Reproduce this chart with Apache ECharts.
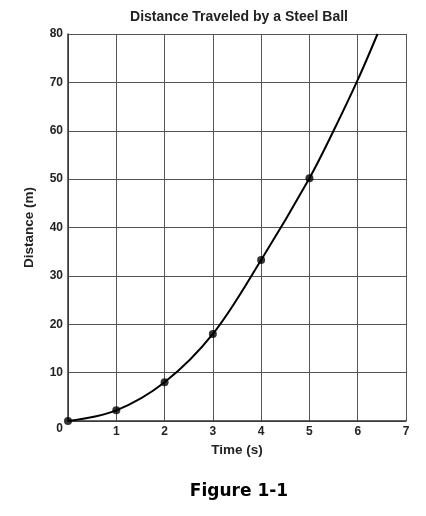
<!DOCTYPE html>
<html>
<head>
<meta charset="utf-8">
<script src="https://cdn.jsdelivr.net/npm/echarts@6/dist/echarts.min.js"></script>
<style>
  html, body { margin: 0; padding: 0; background: #fff; }
  #chart { width: 426px; height: 516px; }
</style>
</head>
<body>
<div id="chart"></div>
<script>
// measured points (dots)
const times = [0, 1, 2, 3, 4, 5];
const distances = [0, 2.2, 8, 18, 33.3, 50.2];

// smooth curve, runs past the last dot to the top edge
const curveTimes = [0, 1, 2, 3, 4, 5, 5.5, 6, 6.41];
const curveDistances = [0, 2.2, 8, 18, 33.3, 50.2, 60, 70.5, 80];

const xTicks = [0, 1, 2, 3, 4, 5, 6, 7];
const yTicks = [0, 10, 20, 30, 40, 50, 60, 70, 80];

const chart = echarts.init(document.getElementById("chart"), null, { renderer: "canvas" });

const labelFont = {
  color: "#222",
  fontFamily: "Liberation Sans, Arial, sans-serif",
  fontWeight: "bold",
  fontSize: 12,
};

const option = {
  backgroundColor: "#fff",
  animation: false,
  title: [
    {
      text: "Distance Traveled by a Steel Ball",
      left: 234,
      top: 5,
      textAlign: "center",
      textStyle: {
        color: "#222",
        fontFamily: "Liberation Sans, Arial, sans-serif",
        fontWeight: "bold",
        fontSize: 14,
      },
    },
    {
      text: "Figure 1-1",
      left: 234,
      top: 478,
      textAlign: "center",
      textStyle: {
        color: "#000",
        fontFamily: "DejaVu Sans, sans-serif",
        fontWeight: "bold",
        fontSize: 17,
      },
    },
  ],
  grid: { left: 68, right: 20, top: 34, bottom: 95 },
  xAxis: {
    type: "value",
    min: xTicks[0],
    max: xTicks[xTicks.length - 1],
    interval: 1,
    name: "Time (s)",
    nameLocation: "middle",
    nameGap: 22,
    nameTextStyle: Object.assign({}, labelFont, { fontSize: 13.5 }),
    axisLine: { show: true, lineStyle: { color: "#333", width: 1.5 } },
    axisTick: { show: false },
    splitLine: { show: true, lineStyle: { color: "#555", width: 1 } },
    axisLabel: Object.assign({}, labelFont, {
      margin: 5,
      formatter: (v) => (v === 0 ? "" : String(v)),
    }),
  },
  yAxis: {
    type: "value",
    min: yTicks[0],
    max: yTicks[yTicks.length - 1],
    interval: 10,
    name: "Distance (m)",
    nameLocation: "middle",
    nameGap: 32,
    nameTextStyle: Object.assign({}, labelFont, { fontSize: 13.5 }),
    axisLine: { show: true, lineStyle: { color: "#333", width: 1.5 } },
    axisTick: { show: false },
    splitLine: { show: true, lineStyle: { color: "#555", width: 1 } },
    axisLabel: Object.assign({}, labelFont, {
      margin: 5,
      formatter: (v) => (v === 0 ? "{z|0}" : String(v)),
      rich: {
        z: Object.assign({}, labelFont, { padding: [16, 0, 0, 0] }),
      },
    }),
  },
  series: [
    {
      type: "line",
      data: curveTimes.map((t, i) => [t, curveDistances[i]]),
      smooth: 0.35,
      showSymbol: false,
      lineStyle: { color: "#000", width: 2 },
      z: 3,
    },
    {
      type: "scatter",
      data: times.map((t, i) => [t, distances[i]]),
      symbolSize: 8,
      itemStyle: { color: "#000" },
      clip: false,
      z: 4,
    },
  ],
};

chart.setOption(option);
</script>
</body>
</html>
